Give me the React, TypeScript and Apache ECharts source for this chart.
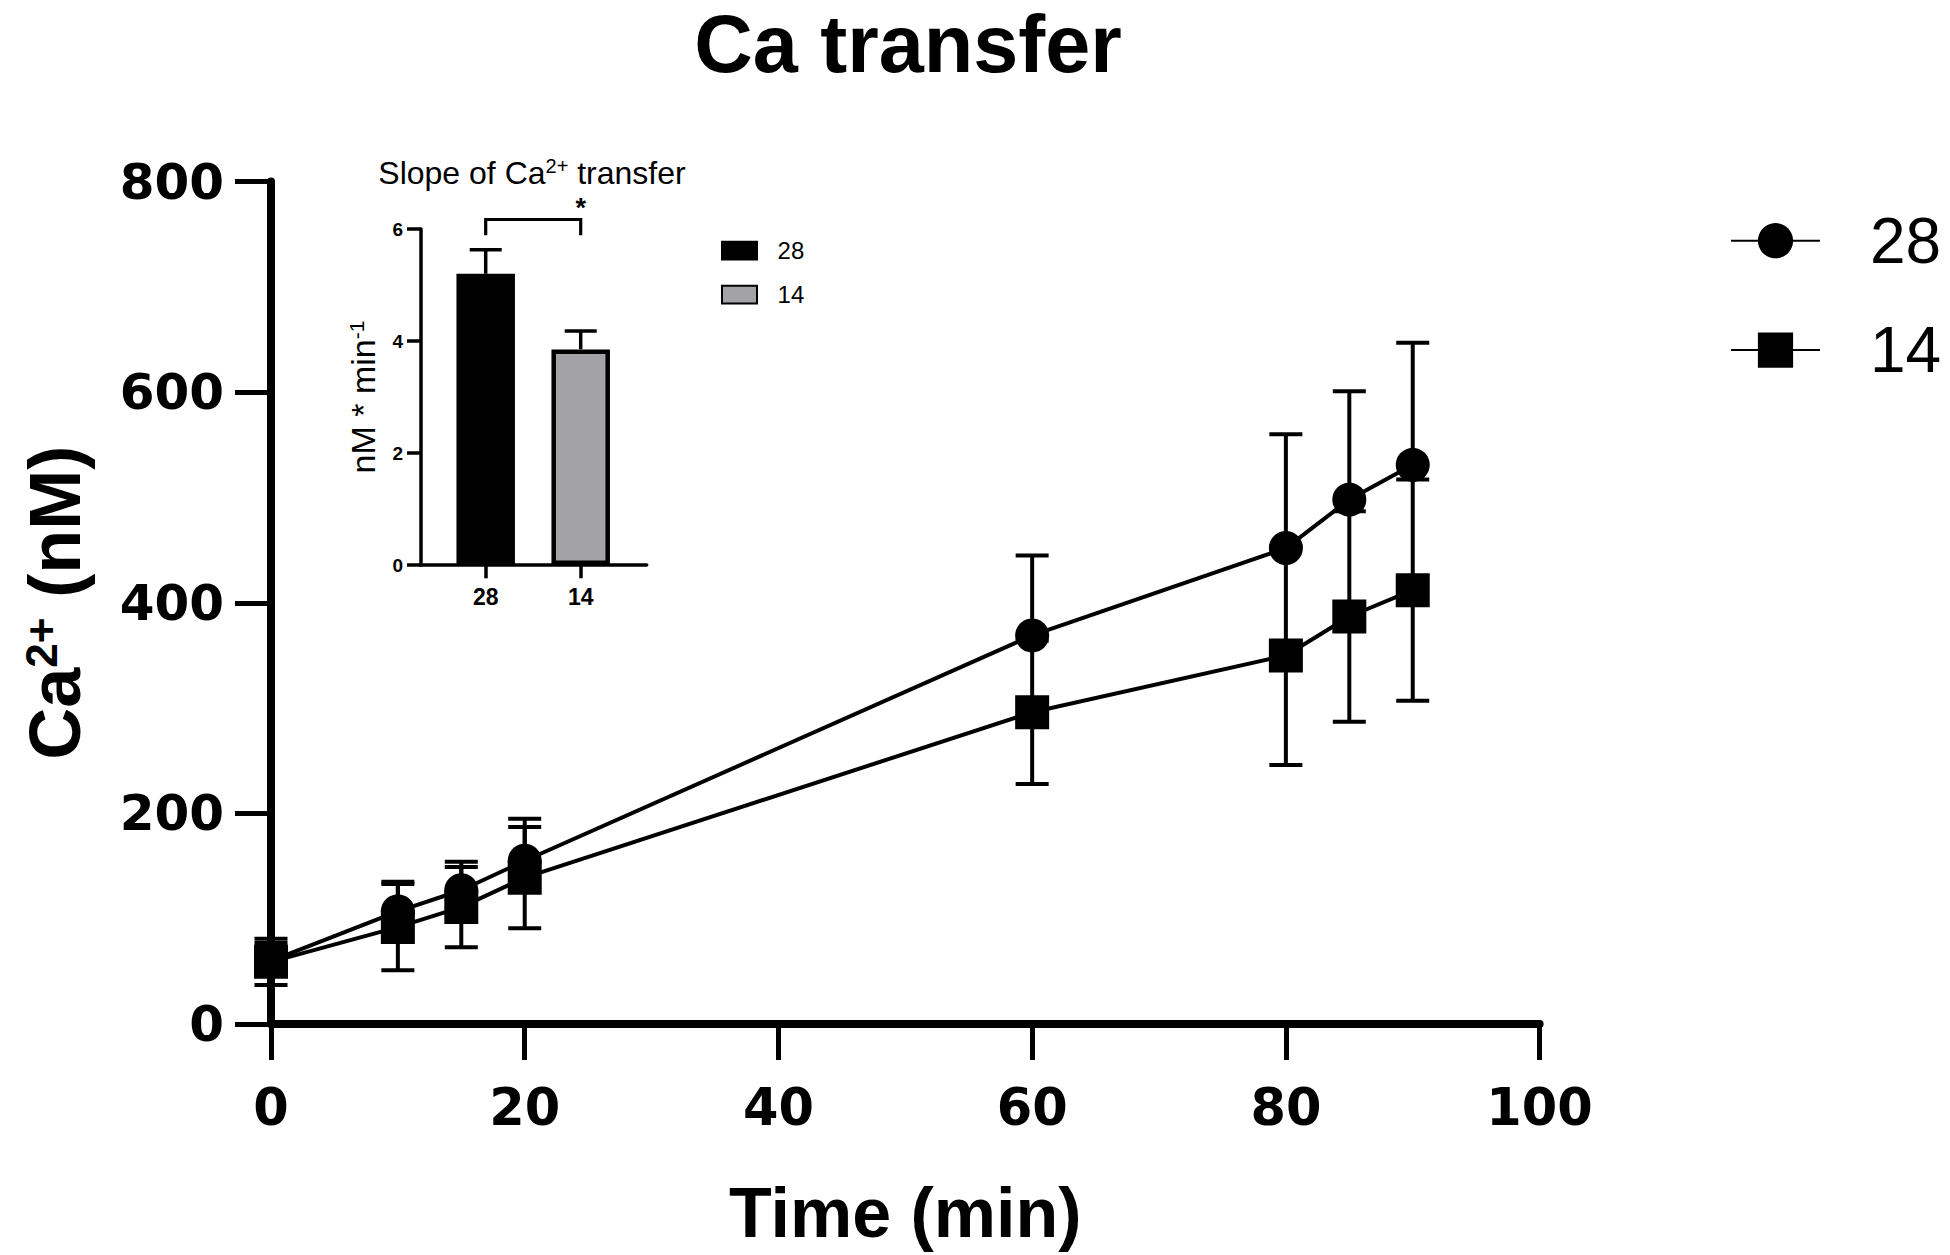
import React, { useEffect, useRef } from "react";
import * as echarts from "echarts";

// ---- data ----
const timeMin = [0, 10, 15, 20, 60, 80, 85, 90];
const mean28 = [60, 107, 127, 155, 369, 452, 498, 531];
const err28 = [17, 28, 27, 40, 76, 108, 103, 116];
const mean14 = [59, 92, 111, 139, 296, 350, 387, 412];
const err14 = [22, 41, 38, 48, 68, 104, 100, 105];

const groups = ["28", "14"];
const slopeMean = [5.2, 3.85];
const slopeErr = [0.43, 0.33];
const sigLabel = "*";

// ---- styling constants ----
const BLACK = "#000000";
const GREY = "#a3a3a7";
const TXT = "Liberation Sans, Arial, sans-serif";
const HEAVY = "DejaVu Sans, sans-serif";

function errorBarRenderer(capHalf: number, lw: number) {
  return (params: any, api: any) => {
    const x = api.value(0);
    const mid = api.value(1);
    const lo = api.value(2);
    const hi = api.value(3);
    const pLo = api.coord([x, lo]);
    const pHi = api.coord([x, hi]);
    const st = { stroke: BLACK, lineWidth: lw };
    const children: any[] = [
      { type: "line", shape: { x1: pLo[0], y1: pLo[1], x2: pHi[0], y2: pHi[1] }, style: st },
      { type: "line", shape: { x1: pHi[0] - capHalf, y1: pHi[1], x2: pHi[0] + capHalf, y2: pHi[1] }, style: st },
    ];
    if (lo !== mid) {
      children.push({ type: "line", shape: { x1: pLo[0] - capHalf, y1: pLo[1], x2: pLo[0] + capHalf, y2: pLo[1] }, style: st });
    }
    return { type: "group", children };
  };
}

export default function App() {
  const ref = useRef<HTMLDivElement>(null);

  useEffect(() => {
    if (!ref.current) return;
    const chart = echarts.init(ref.current, undefined, { renderer: "svg" });

    const line28 = timeMin.map((t, i) => [t, mean28[i]]);
    const line14 = timeMin.map((t, i) => [t, mean14[i]]);
    // series "28": only upward bars are visible; series "14": both directions
    const eb28 = timeMin.map((t, i) => [t, mean28[i], mean28[i], mean28[i] + err28[i]]);
    const eb14 = timeMin.map((t, i) => [t, mean14[i], mean14[i] - err14[i], mean14[i] + err14[i]]);
    const ebSlope = groups.map((g, i) => [i, slopeMean[i], slopeMean[i], slopeMean[i] + slopeErr[i]]);

    const option: any = {
      animation: false,
      backgroundColor: "#ffffff",
      title: [
        {
          text: "Ca transfer",
          left: 908,
          textAlign: "center",
          top: 4,
          padding: 0,
          textStyle: { fontFamily: TXT, fontWeight: "bold", fontSize: 81, lineHeight: 80, color: BLACK },
        },
        {
          text: "Slope of Ca{sup|2+} transfer",
          left: 532,
          textAlign: "center",
          top: 156,
          padding: 0,
          textStyle: {
            fontFamily: TXT,
            fontWeight: "normal",
            fontSize: 32,
            lineHeight: 34,
            color: BLACK,
            rich: {
              sup: { fontFamily: TXT, fontSize: 20, lineHeight: 20, verticalAlign: "top", color: BLACK },
            },
          },
        },
      ],
      legend: [
        {
          data: ["28", "14"],
          orient: "vertical",
          left: 1730,
          top: 208.7,
          padding: 0,
          itemWidth: 89,
          itemHeight: 44,
          itemGap: 45.4,
          selectedMode: false,
          textStyle: { fontFamily: TXT, fontSize: 64, color: BLACK, padding: [0, 0, 0, 45] },
        },
        {
          data: ["Slope 28", "Slope 14"],
          orient: "vertical",
          icon: "rect",
          left: 721,
          top: 238.6,
          padding: 0,
          itemWidth: 35,
          itemHeight: 17.7,
          itemGap: 20.1,
          selectedMode: false,
          formatter: (n: string) => n.replace("Slope ", ""),
          textStyle: { fontFamily: TXT, fontSize: 24, color: BLACK, padding: [0, 0, 0, 15.6] },
        },
      ],
      grid: [
        { left: 271, top: 181.6, width: 1268.6, height: 842.4, containLabel: false },
        { left: 438.2, top: 229, width: 190, height: 336, containLabel: false },
        { left: 421, top: 229, width: 225.7, height: 336, containLabel: false },
      ],
      xAxis: [
        {
          gridIndex: 0,
          type: "value",
          min: 0,
          max: 100,
          interval: 20,
          name: "Time (min)",
          nameLocation: "middle",
          nameGap: 154,
          nameTextStyle: { fontFamily: TXT, fontWeight: "bold", fontSize: 70, color: BLACK },
          axisLine: { show: true, lineStyle: { color: BLACK, width: 8 } },
          axisTick: { show: true, length: 36, lineStyle: { color: BLACK, width: 5 } },
          axisLabel: { margin: 58, fontFamily: HEAVY, fontWeight: "bold", fontSize: 51, color: BLACK },
          splitLine: { show: false },
        },
        {
          gridIndex: 1,
          type: "category",
          data: groups,
          axisLine: { show: false },
          axisTick: { show: true, alignWithLabel: true, length: 13.3, lineStyle: { color: BLACK, width: 3.5 } },
          axisLabel: { margin: 20, fontFamily: TXT, fontWeight: "bold", fontSize: 23, color: BLACK },
          splitLine: { show: false },
        },
        {
          gridIndex: 2,
          type: "value",
          min: 0,
          max: 1,
          axisLine: { show: true, lineStyle: { color: BLACK, width: 3.5 } },
          axisTick: { show: false },
          axisLabel: { show: false },
          splitLine: { show: false },
        },
      ],
      yAxis: [
        {
          gridIndex: 0,
          type: "value",
          min: 0,
          max: 800,
          interval: 200,
          name: "Ca{sup|2+} (nM)",
          nameLocation: "middle",
          nameRotate: 90,
          nameGap: 180,
          nameTextStyle: {
            fontFamily: TXT,
            fontWeight: "bold",
            fontSize: 72,
            lineHeight: 72,
            color: BLACK,
            rich: {
              sup: { fontFamily: TXT, fontWeight: "bold", fontSize: 44, lineHeight: 44, verticalAlign: "top", color: BLACK },
            },
          },
          axisLine: { show: true, lineStyle: { color: BLACK, width: 8 } },
          axisTick: { show: true, length: 36, lineStyle: { color: BLACK, width: 5 } },
          axisLabel: { margin: 47, fontFamily: HEAVY, fontWeight: "bold", fontSize: 50, color: BLACK },
          splitLine: { show: false },
        },
        {
          gridIndex: 1,
          type: "value",
          min: 0,
          max: 6,
          interval: 2,
          offset: 17.2,
          name: "nM * min{sup|-1}",
          nameLocation: "middle",
          nameRotate: 90,
          nameGap: 41,
          nameTextStyle: {
            fontFamily: TXT,
            fontSize: 34,
            lineHeight: 34,
            color: BLACK,
            rich: {
              sup: { fontFamily: TXT, fontSize: 21, lineHeight: 21, verticalAlign: "top", color: BLACK },
            },
          },
          axisLine: { show: true, lineStyle: { color: BLACK, width: 3.5 } },
          axisTick: { show: true, length: 14, lineStyle: { color: BLACK, width: 3.5 } },
          axisLabel: { margin: 18, fontFamily: TXT, fontWeight: "bold", fontSize: 19, color: BLACK },
          splitLine: { show: false },
        },
        {
          gridIndex: 2,
          type: "value",
          show: false,
          min: 0,
          max: 1,
        },
      ],
      series: [
        {
          name: "err28",
          type: "custom",
          xAxisIndex: 0,
          yAxisIndex: 0,
          z: 1,
          renderItem: errorBarRenderer(16.5, 4),
          encode: { x: 0, y: 1 },
          data: eb28,
        },
        {
          name: "err14",
          type: "custom",
          xAxisIndex: 0,
          yAxisIndex: 0,
          z: 1,
          renderItem: errorBarRenderer(16.5, 4),
          encode: { x: 0, y: 1 },
          data: eb14,
        },
        {
          name: "28",
          type: "line",
          xAxisIndex: 0,
          yAxisIndex: 0,
          z: 3,
          symbol: "circle",
          symbolSize: 34,
          color: BLACK,
          itemStyle: { color: BLACK },
          lineStyle: { color: BLACK, width: 4 },
          data: line28,
        },
        {
          name: "14",
          type: "line",
          xAxisIndex: 0,
          yAxisIndex: 0,
          z: 3,
          symbol: "rect",
          symbolSize: 34,
          color: BLACK,
          itemStyle: { color: BLACK },
          lineStyle: { color: BLACK, width: 4 },
          data: line14,
        },
        {
          name: "Slope 28",
          type: "bar",
          xAxisIndex: 1,
          yAxisIndex: 1,
          barWidth: 58.5,
          barGap: "-100%",
          z: 2,
          itemStyle: { color: BLACK, borderColor: BLACK, borderWidth: 4.5 },
          data: [slopeMean[0], "-"],
        },
        {
          name: "Slope 14",
          type: "bar",
          xAxisIndex: 1,
          yAxisIndex: 1,
          barWidth: 58.5,
          barGap: "-100%",
          z: 2,
          itemStyle: { color: GREY, borderColor: BLACK, borderWidth: 4.5 },
          data: ["-", slopeMean[1]],
        },
        {
          name: "errSlope",
          type: "custom",
          xAxisIndex: 1,
          yAxisIndex: 1,
          z: 1,
          renderItem: errorBarRenderer(16, 3.5),
          encode: { x: 0, y: 1 },
          data: ebSlope,
        },
        {
          name: "significance",
          type: "custom",
          xAxisIndex: 1,
          yAxisIndex: 1,
          z: 3,
          clip: false,
          encode: { x: 0, y: 1 },
          data: [[0, 1]],
          renderItem: (params: any, api: any) => {
            const a = api.value(0);
            const b = api.value(1);
            const pA = api.coord([a, 6.17]);
            const pB = api.coord([b, 6.17]);
            const legA = api.coord([a, 5.89]);
            const star = api.coord([(a + b) / 2, 6.38]);
            return {
              type: "group",
              children: [
                {
                  type: "polyline",
                  shape: { points: [[legA[0], legA[1]], [pA[0], pA[1]], [pB[0], pB[1]], [pB[0], legA[1]]] },
                  style: { stroke: BLACK, lineWidth: 3.2, fill: "none" },
                },
                {
                  type: "text",
                  x: star[0],
                  y: star[1],
                  style: {
                    text: sigLabel,
                    fontFamily: TXT,
                    fontWeight: "bold",
                    fontSize: 27,
                    fill: BLACK,
                    align: "center",
                    verticalAlign: "middle",
                  },
                },
              ],
            };
          },
        },
      ],
    };

    chart.setOption(option);
    return () => chart.dispose();
  }, []);

  return (
    <div
      ref={ref}
      style={{ position: "fixed", left: 0, top: 0, width: 1950, height: 1255, background: "#fff" }}
    />
  );
}
